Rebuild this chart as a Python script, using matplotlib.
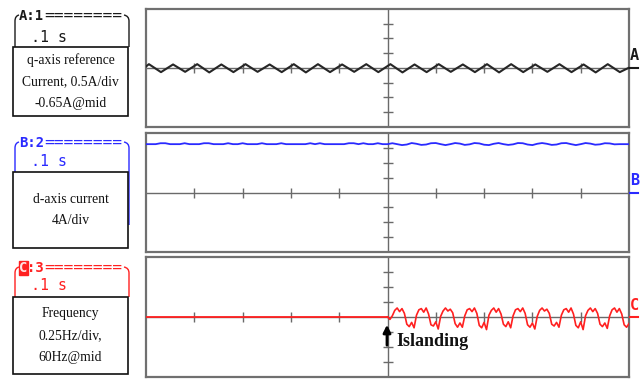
import numpy as np
import matplotlib
matplotlib.use('Agg')
import matplotlib.pyplot as plt
from matplotlib.patches import Rectangle, PathPatch
from matplotlib.path import Path

# ---------------- data ----------------
# Channel A: q-axis reference current (A), triangle-wave vertices
a_vertex_t = np.concatenate([[0.0], 0.006 + 0.025 * np.arange(40), [1.0]])
a_values = [-0.60,
            -0.52, -0.79, -0.53, -0.78, -0.52, -0.80, -0.53, -0.79, -0.52, -0.78,
            -0.53, -0.79, -0.52, -0.80, -0.52, -0.79, -0.53, -0.78, -0.52, -0.79,
            -0.52, -0.80, -0.53, -0.79, -0.52, -0.78, -0.53, -0.79, -0.52, -0.80,
            -0.52, -0.79, -0.53, -0.78, -0.52, -0.79, -0.53, -0.80, -0.52, -0.79,
            -0.64]

# Channel B: d-axis current (A), sampled every 0.01 s
b_t = np.linspace(0.0, 1.0, 101)
b_values = [13.0, 13.0, 13.0, 13.25, 13.25, 13.0, 13.0, 13.0, 13.25, 13.0,
            13.0, 13.0, 13.25, 13.25, 13.0, 13.0, 13.0, 13.25, 13.0, 13.0,
            13.25, 13.0, 13.0, 13.0, 13.25, 13.0, 13.0, 13.0, 13.25, 13.0,
            13.0, 13.0, 13.0, 13.0, 13.25, 13.0, 13.25, 13.0, 13.0, 13.0,
            13.0, 13.0, 13.25, 13.25, 13.0, 13.25, 13.0, 13.0, 13.25, 13.0,
            13.0, 13.25, 13.0, 12.75, 12.9, 13.3, 13.1, 12.8, 12.9, 13.25,
            13.3, 13.0, 12.75, 13.0, 13.3, 13.15, 12.8, 12.95, 13.3, 13.2,
            12.85, 12.75, 13.1, 13.3, 13.0, 12.8, 12.95, 13.3, 13.25, 12.9,
            12.75, 13.1, 13.3, 13.1, 12.8, 12.9, 13.25, 13.3, 13.0, 12.75,
            13.0, 13.3, 13.15, 12.85, 12.95, 13.25, 13.2, 12.95, 13.0, 13.0,
            13.0]

# Channel C: frequency (Hz)
c_pre_t = [0.0, 0.5]
c_pre_values = [60.0, 60.0]
c_t = np.linspace(0.5, 1.0, 101)
c_values = [60.00, 59.96,
            60.02, 60.11, 60.15, 60.09, 60.14, 60.06, 59.88, 59.84, 59.91, 59.82,
            60.03, 60.12, 60.14, 60.08, 60.15, 60.05, 59.87, 59.85, 59.92, 59.80,
            60.01, 60.10, 60.15, 60.10, 60.13, 60.07, 59.89, 59.83, 59.90, 59.83,
            60.02, 60.12, 60.14, 60.09, 60.15, 60.06, 59.86, 59.82, 59.91, 59.79,
            60.03, 60.11, 60.15, 60.08, 60.14, 60.05, 59.88, 59.84, 59.92, 59.82,
            60.02, 60.12, 60.14, 60.09, 60.15, 60.06, 59.87, 59.83, 59.90, 59.80,
            60.01, 60.11, 60.15, 60.10, 60.13, 60.06, 59.88, 59.85, 59.91, 59.83,
            60.03, 60.12, 60.14, 60.08, 60.15, 60.05, 59.86, 59.82, 59.92, 59.79,
            60.02, 60.11, 60.15, 60.09, 60.14, 60.06, 59.88, 59.84, 59.90, 59.81,
            60.02, 60.12, 60.15, 60.08, 60.14, 60.05, 59.87, 59.83, 59.89]

channel_letters = ['A', 'B', 'C']
channel_numbers = ['1', '2', '3']
channel_colors = ['#1a1a1a', '#2a2aff', '#ff2020']
channel_mid = [-0.65, 0.0, 60.0]
channel_per_div = [0.5, 4.0, 0.25]
box_texts = [['q-axis reference', 'Current, 0.5A/div', '-0.65A@mid'],
             ['d-axis current', '4A/div'],
             ['Frequency', '0.25Hz/div,', '60Hz@mid']]
time_label = '.1 s'
event_label = 'Islanding'

# ---------------- layout (pixels) ----------------
W, H = 644, 379
fig = plt.figure(figsize=(W / 100, H / 100), dpi=100)
fig.patch.set_facecolor('white')

panel_x = (146, 629)
panel_y = [(9, 127), (133, 252), (257, 377)]
hdr_y = [15, 142, 267]
time_y = [37, 161, 285]
box_y = [(47, 116), (172, 248), (297, 374)]
bracket_right_bottom = [47, 225, 297]


def px_axes(x0, y0, x1, y1, **kw):
    return fig.add_axes([x0 / W, 1 - y1 / H, (x1 - x0) / W, (y1 - y0) / H], **kw)


grid_col = '#6a6a6a'
axes = []
for i in range(3):
    y0, y1 = panel_y[i]
    ax = px_axes(panel_x[0], y0, panel_x[1], y1)
    mid, pdv = channel_mid[i], channel_per_div[i]
    ax.set_xlim(0, 1)
    ax.set_ylim(mid - 4 * pdv, mid + 4 * pdv)
    ax.set_xticks([])
    ax.set_yticks([])
    for s in ax.spines.values():
        s.set_color('#707070')
        s.set_linewidth(1.6)
    ax.axhline(mid, color=grid_col, lw=1.0, zorder=1)
    ax.axvline(0.5, color=grid_col, lw=1.0, zorder=1)
    ax.plot([0.5] * 6, [mid + k * pdv for k in (-3, -2, -1, 1, 2, 3)], ls='none',
            marker='_', ms=7.5, mew=1.0, color=grid_col, zorder=1)
    ax.plot([0.1, 0.2, 0.3, 0.4, 0.6, 0.7, 0.8, 0.9], [mid] * 8, ls='none',
            marker='|', ms=7.5, mew=1.0, color=grid_col, zorder=1)
    axes.append(ax)

axes[0].plot(a_vertex_t, a_values, color='#262626', lw=1.5, zorder=3)
axes[1].plot(b_t, b_values, color='#2a2aff', lw=1.3, zorder=3)
axes[2].plot(c_pre_t, c_pre_values, color='#ff2020', lw=1.3, zorder=3)
axes[2].plot(c_t, c_values, color='#ff2020', lw=1.2, zorder=3)

# overlay in pixel coordinates (y down)
ov = fig.add_axes([0, 0, 1, 1], facecolor='none')
ov.set_xlim(0, W)
ov.set_ylim(H, 0)
ov.axis('off')

mono = 'DejaVu Sans Mono'
for i in range(3):
    col = channel_colors[i]
    hy = hdr_y[i]
    bt, bb = box_y[i]
    # bracket outline
    left = Path([(15, bt), (15, hy + 6), (15, hy + 1), (19, hy)],
                [Path.MOVETO, Path.LINETO, Path.CURVE3, Path.CURVE3])
    right = Path([(124, hy), (129, hy + 1), (129, hy + 6), (129, bracket_right_bottom[i])],
                 [Path.MOVETO, Path.CURVE3, Path.CURVE3, Path.LINETO])
    for p in (left, right):
        ov.add_patch(PathPatch(p, fill=False, edgecolor=col, lw=1.0, zorder=2))
    # header text
    if i == 2:
        ov.text(19, hy + 1, channel_letters[i], color='#ffe0e0', fontsize=10,
                family=mono, fontweight='bold', ha='left', va='center', zorder=4,
                bbox=dict(boxstyle='square,pad=0.02', fc=col, ec=col))
        ov.text(27.4, hy + 1, ':' + channel_numbers[i], color=col, fontsize=10,
                family=mono, fontweight='bold', ha='left', va='center', zorder=4)
    else:
        ov.text(19, hy + 1, channel_letters[i] + ':' + channel_numbers[i], color=col,
                fontsize=10, family=mono, fontweight='bold', ha='left', va='center',
                zorder=4)
    ov.text(44.5, hy, '========', color=col, fontsize=11.6, family=mono,
            ha='left', va='center', zorder=4)
    ov.text(31.5, time_y[i], time_label, color=col, fontsize=10.8, family=mono,
            ha='left', va='center', zorder=4)
    # label box
    ov.add_patch(Rectangle((13, bt), 115, bb - bt, fc='white', ec='#111111', lw=1.2, zorder=5))
    lines = box_texts[i]
    n = len(lines)
    cy = (bt + bb) / 2
    step = 21.5
    for k, s in enumerate(lines):
        ov.text(70.5, cy + (k - (n - 1) / 2) * step, s, fontsize=9.8,
                family='Liberation Serif', ha='center', va='center', color='#111111', zorder=6)
    # right-side channel marker
    mid_px = (panel_y[i][0] + panel_y[i][1]) / 2
    ov.text(634.5, mid_px - 12, channel_letters[i], color=col, fontsize=11, family=mono,
            fontweight='bold', ha='center', va='center', zorder=4)
    ov.plot([630, 638], [mid_px, mid_px], color=col, lw=1.5, zorder=4)

# islanding arrow + label
ov.annotate('', xy=(387, 322), xytext=(387, 348),
            arrowprops=dict(arrowstyle='-|>', color='black', lw=2.0, mutation_scale=11),
            zorder=7)
ov.text(396, 342, event_label, fontsize=13, family='Liberation Serif', fontweight='bold',
        ha='left', va='center', color='#111111', zorder=7)

fig.savefig('out.png', dpi=100, facecolor='white')
